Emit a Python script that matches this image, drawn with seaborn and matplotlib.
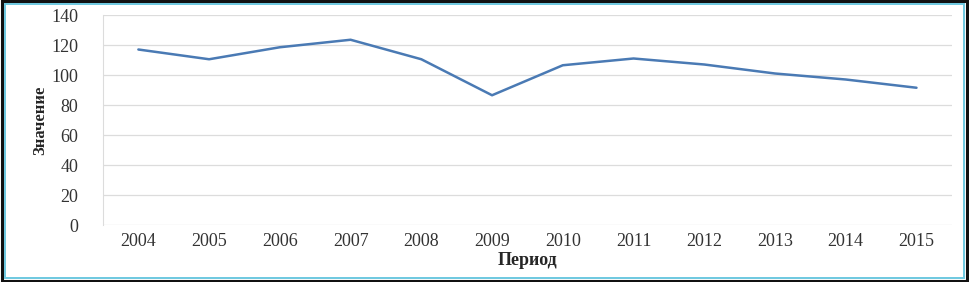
"""
Line chart: value by period (2004-2015)
"""

import matplotlib
matplotlib.use('Agg')
import matplotlib.pyplot as plt
import seaborn as sns
import pandas as pd
from matplotlib.patches import Rectangle

years = ['2004', '2005', '2006', '2007', '2008', '2009',
         '2010', '2011', '2012', '2013', '2014', '2015']
values = [117, 110.5, 118.5, 123.5, 110.5, 86.5,
          106.5, 111, 107, 101, 97, 91.5]
y_ticks = [0, 20, 40, 60, 80, 100, 120, 140]

df = pd.DataFrame({'period': years, 'value': values})

sns.set_style('white')
plt.rcParams['font.family'] = ['Liberation Serif', 'DejaVu Serif']

fig = plt.figure(figsize=(9.69, 2.82), dpi=100)
ax = fig.add_axes([0.1063, 0.2021, 0.876, 0.7447])

sns.lineplot(data=df, x='period', y='value', ax=ax, color='#4a7ab4',
             linewidth=1.8, sort=False)

ax.set_xlim(-0.5, len(years) - 0.5)
ax.set_ylim(0, 140)
ax.set_yticks(y_ticks)
ax.grid(axis='y', color='#dcdcdc', linewidth=0.9)
ax.set_axisbelow(True)
for side in ['top', 'right', 'bottom']:
    ax.spines[side].set_visible(False)
ax.spines['left'].set_color('#dcdcdc')
ax.tick_params(axis='both', length=0, labelsize=13, colors='#333333')
ax.tick_params(axis='y', pad=18)
ax.tick_params(axis='x', pad=6)

ax.set_xlabel('Период', fontsize=13, fontweight='bold', labelpad=1)
ax.set_ylabel('Значение', fontsize=12, fontweight='bold', labelpad=2)

# outer frame like the source screenshot
fig.patches.append(Rectangle((0.002, 0.005), 0.996, 0.99, transform=fig.transFigure,
                             fill=False, edgecolor='#111111', linewidth=2.2))
fig.patches.append(Rectangle((0.005, 0.015), 0.99, 0.97, transform=fig.transFigure,
                             fill=False, edgecolor='#6cc8e0', linewidth=1.4))

plt.savefig('out.png', dpi=100)
plt.close()
